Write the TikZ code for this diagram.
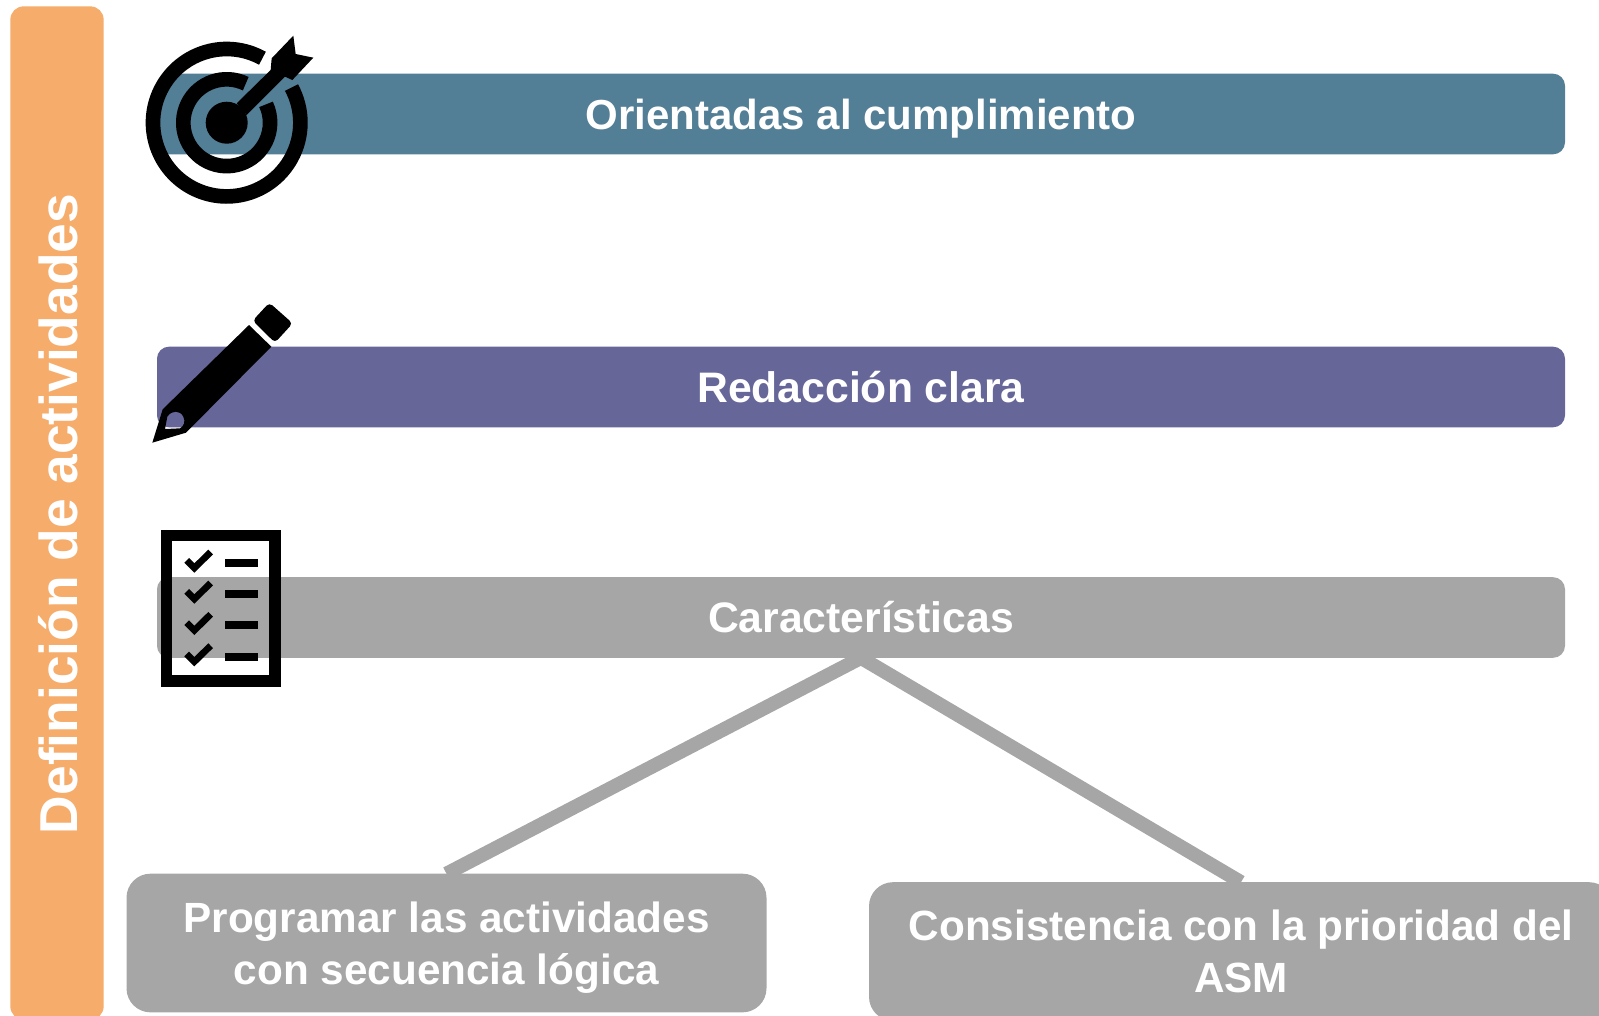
\documentclass[tikz,border=0pt]{standalone}
\usepackage{fontspec}
\setmainfont{Liberation Sans}
\definecolor{barteal}{RGB}{82,126,150}
\definecolor{barpurple}{RGB}{102,102,153}
\definecolor{bargray}{RGB}{166,166,166}
\definecolor{sideorange}{RGB}{246,172,106}
\tikzset{title bar/.style={
        fill=#1, rounded corners=9pt, minimum width=1056pt, minimum height=60.5pt,
        align=center, outer sep=0pt, text=white, text height=23pt, text depth=0pt,
        font=\fontsize{32}{38}\selectfont\bfseries,
    },
    side bar/.style={
        fill=sideorange, rounded corners=10pt, minimum width=70pt, minimum height=760pt,
        outer sep=0pt,
    },
    side text/.style={
        rotate=90, text=white, font=\fontsize{40}{48}\selectfont\bfseries, inner sep=0pt,
    },
    item box/.style={
        fill=bargray, rounded corners=18pt, minimum width=#1, minimum height=104pt,
        align=center, outer sep=0pt, text=white, text depth=0pt,
        font=\fontsize{31.7}{39}\selectfont\bfseries,
    },
    link/.style={
        draw=bargray, line width=10.5pt,
    },
}
\begin{document}
\begin{tikzpicture}[x=0.75pt,y=-0.75pt]
    \useasboundingbox (0,0) rectangle (1599,1015);

    \node [side bar] (side) at (57,513) {};
    \node [side text] (sidelabel) at (58,514) {Definición de actividades};

    \node [title bar=barteal, font=\fontsize{31.5}{38}\selectfont\bfseries] (goal) at (861,114) {Orientadas al cumplimiento};
    \node [title bar=barpurple] (writing) at (861,387) {Redacción clara};
    \node [title bar=bargray] (traits) at (861,617.5) {Características};

    \node [item box=480pt] (sequence) at (446.5,943) {Programar las actividades\\con secuencia lógica};
    \node [item box=558pt] (priority) at (1241,951.5) {Consistencia con la prioridad del\\ASM};

    %% the two links under the last bar
    \draw [link] (traits.south) -- (sequence.north);
    \draw [link] (traits.south) -- (priority.north);

    %% target icon
    \draw [line width=11pt] (226.7,122.7) ++(-61:73.7) arc [start angle=-61, end angle=-388.5, radius=73.7];
    \draw [line width=11pt] (226.7,122.7) ++(-64:43.4) arc [start angle=-64, end angle=-385, radius=43.4];
    \fill (226.7,122.7) circle [radius=21];
    \begin{scope}[shift={(130,20)},x=0.25pt,y=-0.25pt]
        \fill (320,250) -- (422,150) -- (425,115) -- (490,47) -- (497,102) -- (550,113)
            -- (487,180) -- (465,170) -- (350,285) -- cycle;
    \end{scope}

    %% pencil icon
    \begin{scope}[shift={(130,290)},x=0.25pt,y=-0.25pt]
        \fill [even odd rule] (357,105) -- (424,170) -- (168,428) -- (67,458) -- (98,358) -- cycle
            (105,417) -- (112,380) .. controls (125,360) and (150,360) .. (160,380)
            .. controls (167,395) and (162,408) .. (150,415) -- cycle;
        \fill [rounded corners=3pt] (418,38) -- (488,100) -- (435,158) -- (368,92) -- cycle;
    \end{scope}

    %% checklist icon
    \begin{scope}[shift={(140,515)},x=0.25pt,y=-0.25pt]
        \draw [line width=8.75pt] (79.5,61.5) rectangle (404.5,497);
        \foreach \rowy in {144,237,331,425} {
            \draw [line width=5pt] (140,\rowy-8) -- (163,\rowy+15) -- (212,\rowy-33);
            \fill (255,\rowy-12) rectangle (355,\rowy+12);
        }
    \end{scope}
\end{tikzpicture}
\end{document}
